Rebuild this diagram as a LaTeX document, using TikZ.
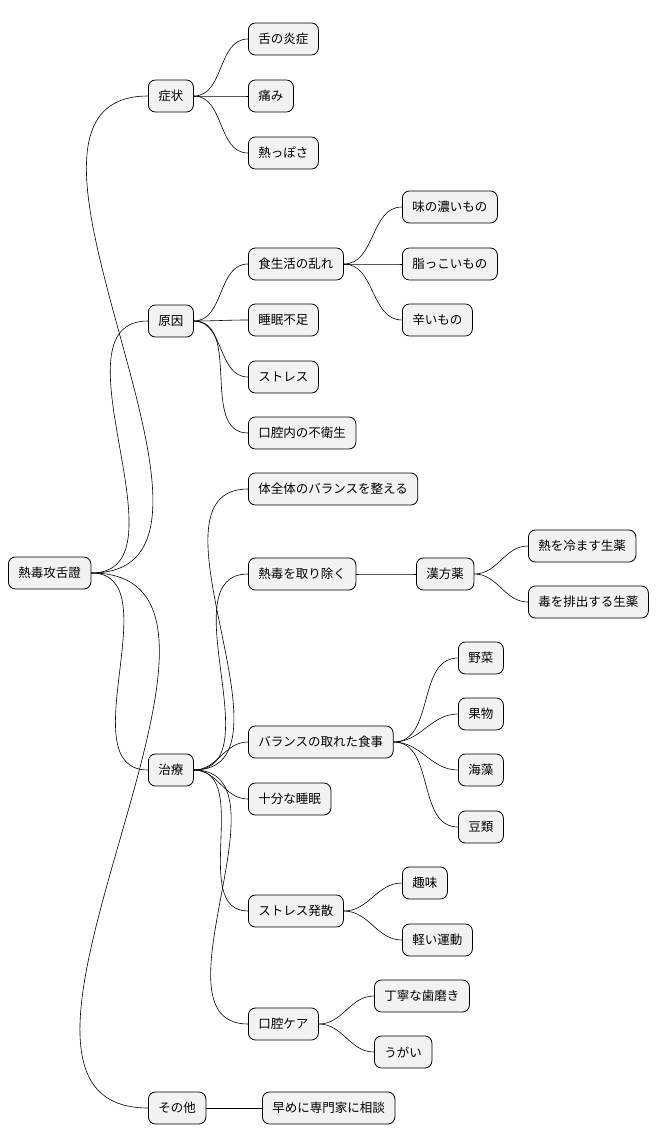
\documentclass[tikz,border=0pt]{standalone}
\usepackage{fontspec}
\setmainfont{Noto Sans CJK JP}
\tikzset{
  topic/.style={draw, rounded corners=7pt, fill=gray!10, line width=0.8pt,
    minimum height=32pt, inner xsep=10pt, anchor=west, font=\fontsize{12.5}{14}\selectfont},
  link/.style={line width=0.6pt},
}
\begin{document}
\begin{tikzpicture}[x=1pt,y=-1pt]
  \useasboundingbox (0,0) rectangle (670,1146);
  \node[topic] (root) at (8,573) {熱毒攻舌證};
  % 症状
  \node[topic] (sym) at (148,96) {症状};
  \node[topic] (sym1) at (248,39) {舌の炎症};
  \node[topic] (sym2) at (248,96) {痛み};
  \node[topic] (sym3) at (248,153) {熱っぽさ};
  % 原因
  \node[topic] (cause) at (148,321) {原因};
  \node[topic] (diet) at (248,264) {食生活の乱れ};
  \node[topic] (diet1) at (402,207) {味の濃いもの};
  \node[topic] (diet2) at (402,264) {脂っこいもの};
  \node[topic] (diet3) at (402,320) {辛いもの};
  \node[topic] (sleep) at (248,320) {睡眠不足};
  \node[topic] (stress) at (248,377) {ストレス};
  \node[topic] (mouth) at (248,433) {口腔内の不衛生};
  % 治療
  \node[topic] (cure) at (148,770) {治療};
  \node[topic] (bal) at (248,489) {体全体のバランスを整える};
  \node[topic] (heat) at (248,574) {熱毒を取り除く};
  \node[topic] (kampo) at (416,574) {漢方薬};
  \node[topic] (herb1) at (528,546) {熱を冷ます生薬};
  \node[topic] (herb2) at (528,602) {毒を排出する生薬};
  \node[topic] (meal) at (248,742) {バランスの取れた食事};
  \node[topic] (food1) at (458,658) {野菜};
  \node[topic] (food2) at (458,714) {果物};
  \node[topic] (food3) at (458,770) {海藻};
  \node[topic] (food4) at (458,827) {豆類};
  \node[topic] (rest) at (248,799) {十分な睡眠};
  \node[topic] (relief) at (248,911) {ストレス発散};
  \node[topic] (hobby) at (402,883) {趣味};
  \node[topic] (exer) at (402,940) {軽い運動};
  \node[topic] (care) at (248,1024) {口腔ケア};
  \node[topic] (brush) at (374,996) {丁寧な歯磨き};
  \node[topic] (gargle) at (374,1052) {うがい};
  % その他
  \node[topic] (other) at (148,1108) {その他};
  \node[topic] (doc) at (262,1108) {早めに専門家に相談};

  \foreach \a/\b in {root/sym, root/cause, root/cure, root/other,
      sym/sym1, sym/sym2, sym/sym3,
      cause/diet, cause/sleep, cause/stress, cause/mouth,
      diet/diet1, diet/diet2, diet/diet3,
      cure/bal, cure/heat, cure/meal, cure/rest, cure/relief, cure/care,
      heat/kampo, kampo/herb1, kampo/herb2,
      meal/food1, meal/food2, meal/food3, meal/food4,
      relief/hobby, relief/exer, care/brush, care/gargle, other/doc}
    \draw[link] (\a.east) to[out=0, in=180] (\b.west);
\end{tikzpicture}
\end{document}
